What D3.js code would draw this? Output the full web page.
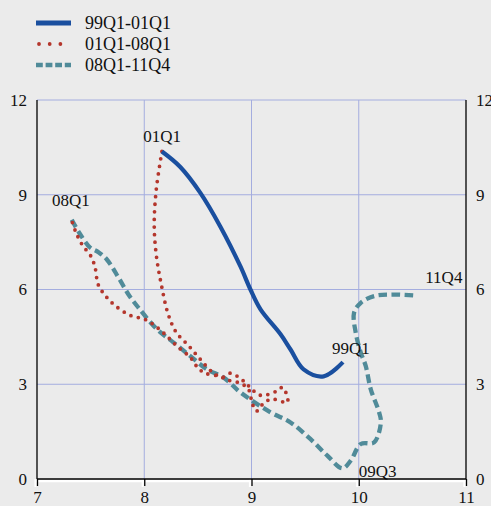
<!DOCTYPE html>
<html><head><meta charset="utf-8">
<script src="https://cdn.jsdelivr.net/npm/d3@7"></script>
<style>
html,body{margin:0;padding:0;background:#ebebeb;}
svg{display:block;font-family:"Liberation Serif","Times New Roman",serif;}
</style></head>
<body><svg id="c" width="491" height="506"></svg>
<script>
const seriesNames = ["99Q1-01Q1","01Q1-08Q1","08Q1-11Q4"];
const xTicks = [7,8,9,10,11];
const yTicks = [0,3,6,9,12];
// 99Q1 -> 01Q1
const s1x = [9.853,9.673,9.486,9.364,9.271,9.084,8.99,8.897,8.71,8.523,8.336,8.165];
const s1y = [3.70,3.25,3.47,4.10,4.58,5.37,6.0,6.73,7.99,9.06,9.88,10.37];
// 01Q1 -> 08Q1
const s2x = [8.165,8.112,8.093,8.112,8.159,8.224,8.299,8.411,8.523,8.636,8.729,8.804,8.916,8.972,9.084,9.234,9.290,9.336,9.196,9.121,9.047,9.009,8.972,8.897,8.785,8.701,8.570,8.505,8.430,8.318,8.224,8.131,8.009,7.869,7.729,7.636,7.570,7.542,7.505,7.421,7.364,7.327];
const s2y = [10.37,9.16,8.05,7.10,6.16,5.21,4.64,4.23,3.79,3.38,3.22,3.35,3.13,2.95,2.65,2.78,2.90,2.43,2.53,2.43,2.15,2.37,2.84,3.03,3.13,3.25,3.35,3.50,3.85,4.17,4.48,4.77,5.05,5.18,5.49,5.81,6.16,6.69,7.04,7.42,7.80,8.15];
// 08Q1 -> 11Q4
const s3x = [7.324,7.395,7.495,7.573,7.651,7.760,7.853,7.947,8.119,8.274,8.430,8.586,8.741,8.897,9.178,9.364,9.551,9.707,9.848,9.925,10.019,10.143,10.206,10.190,10.112,10.065,10.019,9.972,9.956,10.019,10.143,10.299,10.517];
const s3y = [8.21,7.79,7.33,7.18,6.95,6.38,5.84,5.42,4.74,4.32,3.89,3.47,3.21,2.74,2.11,1.79,1.26,0.74,0.34,0.58,1.11,1.16,1.79,2.11,2.84,3.58,4.00,4.63,5.26,5.58,5.79,5.84,5.81];
const pointLabels = ["01Q1","08Q1","99Q1","11Q4","09Q3"];
const labelX = [7.99, 7.14, 9.75, 10.62, 10.0];
const labelY = [10.68, 8.64, 3.96, 6.22, 0.06];

const svg = d3.select("#c");
const x = d3.scaleLinear().domain([7,11]).range([37,466]);
const y = d3.scaleLinear().domain([0,12]).range([479,100]);
const grid = "#a4addf";

// gridlines
svg.append("g").selectAll("line").data([8,9,10]).join("line")
  .attr("x1",d=>x(d)).attr("x2",d=>x(d)).attr("y1",y(12)).attr("y2",y(0))
  .attr("stroke",grid).attr("stroke-width",1);
svg.append("g").selectAll("line").data([3,6,9,12]).join("line")
  .attr("x1",x(7)).attr("x2",x(11)).attr("y1",d=>y(d)).attr("y2",d=>y(d))
  .attr("stroke",grid).attr("stroke-width",1);

// series
const colors = ["#1a4f9f","#b4362c","#508b99"];
const data = [d3.zip(s1x,s1y), d3.zip(s2x,s2y), d3.zip(s3x,s3y)];
const line = d3.line().x(d=>x(d[0])).y(d=>y(d[1])).curve(d3.curveCatmullRom.alpha(0.5));
svg.append("path").datum(data[2]).attr("d",line).attr("fill","none")
  .attr("stroke",colors[2]).attr("stroke-width",4.3).attr("stroke-dasharray","8.5 4.5");
svg.append("path").datum(data[1]).attr("d",line).attr("fill","none")
  .attr("stroke",colors[1]).attr("stroke-width",3.8).attr("stroke-linecap","round").attr("stroke-dasharray","0 7.6");
svg.append("path").datum(data[0]).attr("d",line).attr("fill","none")
  .attr("stroke",colors[0]).attr("stroke-width",4.2).attr("stroke-linecap","butt");

// point labels
svg.append("g").selectAll("text").data(pointLabels).join("text")
  .attr("x",(d,i)=>x(labelX[i])).attr("y",(d,i)=>y(labelY[i]))
  .attr("font-size",17).attr("fill","#111").text(d=>d);

// axes
const yl = d3.axisLeft(y).tickValues(yTicks).tickSize(0).tickPadding(10);
const gl = svg.append("g").attr("transform",`translate(${x(7)},0)`).call(yl);
const yr = d3.axisRight(y).tickValues(yTicks).tickSize(0).tickPadding(10);
const gr = svg.append("g").attr("transform",`translate(${x(11)},0)`).call(yr);
[gl,gr].forEach(g=>{
  g.attr("font-family",null);
  g.select(".domain").attr("stroke","#000").attr("stroke-width",1.3).attr("d",`M0,${y(12)}V${y(0)}`);
  g.selectAll("text").attr("font-size",17).attr("fill","#111");
});
// bottom axis: white shadow + black line
svg.append("line").attr("x1",x(7)-2).attr("x2",x(11)+1).attr("y1",y(0)+2.2).attr("y2",y(0)+2.2)
  .attr("stroke","#fff").attr("stroke-width",2.2);
svg.selectAll(".tw").data(xTicks).join("line").attr("class","tw")
  .attr("x1",d=>x(d)-1.6).attr("x2",d=>x(d)-1.6).attr("y1",y(0)).attr("y2",y(0)+8)
  .attr("stroke","#fff").attr("stroke-width",2);
const xa = d3.axisBottom(x).tickValues(xTicks).tickSize(7).tickPadding(5).tickFormat(d3.format("d"));
const gx = svg.append("g").attr("transform",`translate(0,${y(0)})`).call(xa);
gx.attr("font-family",null);
gx.select(".domain").attr("stroke","#000").attr("stroke-width",1.3).attr("d",`M${x(7)},0H${x(11)}`);
gx.selectAll(".tick line").attr("stroke","#000").attr("stroke-width",1.3);
gx.selectAll("text").attr("font-size",17).attr("fill","#111");

// legend
const lg = svg.append("g");
const lrows = [23,44,65];
const ldash = [null,"0 10.7","6.8 2.8"];
const lw = [5,3.8,4.4];
seriesNames.forEach((n,i)=>{
  const ln = lg.append("line").attr("x1",i===1?39:36).attr("x2",71).attr("y1",lrows[i]).attr("y2",lrows[i])
    .attr("stroke",colors[i]).attr("stroke-width",lw[i]);
  if(ldash[i]) ln.attr("stroke-dasharray",ldash[i]);
  if(i===1) ln.attr("stroke-linecap","round");
  lg.append("text").attr("x",85).attr("y",lrows[i]+5.5).attr("font-size",18).attr("fill","#111").text(n);
});
</script></body></html>
